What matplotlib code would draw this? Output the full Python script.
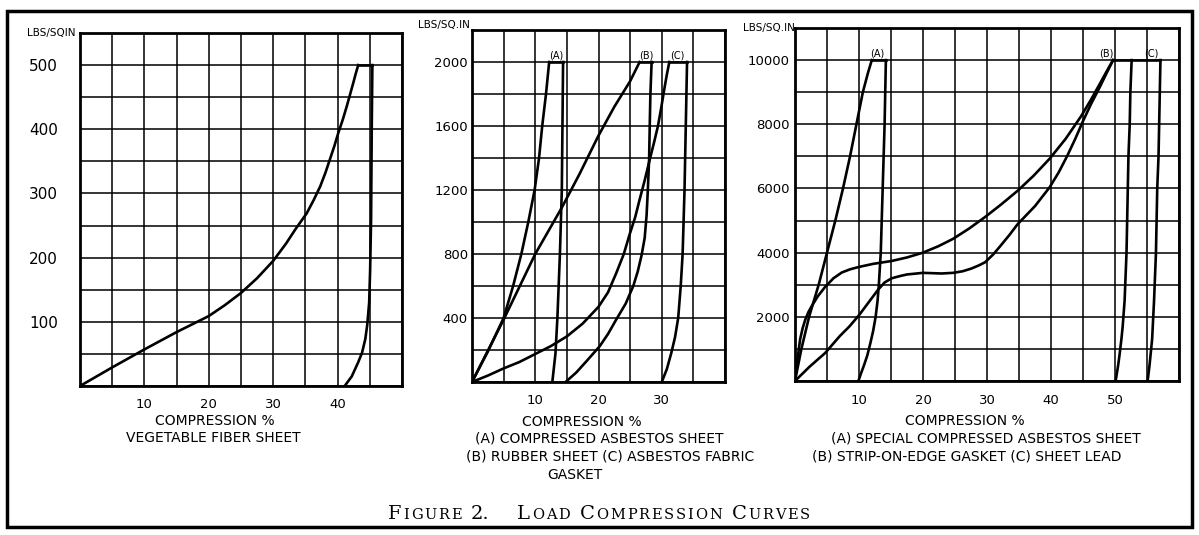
import matplotlib
matplotlib.use('Agg')
import matplotlib.pyplot as plt
from matplotlib.patches import Rectangle
import numpy as np

# ---- datos ----
# panel 1: vegetable fiber sheet
fibra_carga_x = [0, 5, 10, 15, 20, 22.5, 25, 27.5, 30, 32, 33.5, 35.2, 36.3, 37.3, 38.1, 38.8,
                 39.5, 40.1, 40.8, 41.4, 41.9, 42.4, 42.8, 43.2]
fibra_carga_y = [0, 29, 57, 84, 109, 126, 145, 168, 195, 222, 245, 269, 290, 311, 332, 353,
                 374, 394, 415, 435, 453, 471, 486, 500]
fibra_tope_x = [43.2, 45.4]
fibra_descarga_x = [45.4, 45.3, 45.2, 45.05, 44.9, 44.6, 44.3, 43.8, 43.2, 42.2, 41.1]
fibra_descarga_y = [500, 400, 260, 180, 130, 95, 73, 52, 37, 15, 0]

# panel 2: (A) compressed asbestos, (B) rubber sheet, (C) asbestos fabric gasket
a2_carga_x = [0, 2.5, 5, 6.5, 7.8, 8.9, 9.9, 10.6, 11.1, 11.7, 12.2]
a2_carga_y = [0, 190, 400, 600, 800, 1000, 1200, 1400, 1600, 1800, 2000]
a2_descarga_x = [14.4, 14.35, 14.3, 14.2, 14.05, 13.9, 13.7, 13.5, 13.2, 12.7]
a2_descarga_y = [2000, 1800, 1600, 1200, 1000, 800, 600, 400, 180, 0]

b2_carga_x = [0, 5, 10, 14.2, 17, 20, 22.5, 25, 26.5]
b2_carga_y = [0, 390, 800, 1090, 1300, 1540, 1720, 1880, 2000]
b2_descarga_x = [28.4, 28.3, 28.2, 28.1, 28.0, 27.8, 27.6, 27.3, 26.8, 26.2, 25.5, 24.3, 22.8,
                 21.5, 20.2, 18.1, 16.5, 14.8]
b2_descarga_y = [2000, 1900, 1790, 1600, 1390, 1200, 1040, 900, 790, 690, 600, 490, 390,
                 300, 224, 130, 60, 0]

c2_carga_x = [0, 2.5, 5, 7.5, 10, 12.5, 15, 17.5, 20, 21.5, 22.8, 24, 24.9, 25.8, 26.5, 27.3,
              28.1, 28.8, 29.4, 29.9, 30.4, 30.8, 31.2]
c2_carga_y = [0, 40, 85, 125, 175, 225, 285, 365, 470, 560, 680, 800, 920, 1030, 1140, 1260,
              1390, 1500, 1600, 1710, 1830, 1920, 2000]
c2_descarga_x = [34.0, 33.9, 33.8, 33.6, 33.3, 33.0, 32.6, 32.1, 31.5, 30.8, 30.0]
c2_descarga_y = [2000, 1800, 1600, 1200, 800, 600, 400, 280, 180, 80, 0]

# panel 3: (A) special compressed asbestos, (B) strip-on-edge gasket, (C) sheet lead
a3_carga_x = [0, 1, 2.2, 3.7, 5, 6.3, 7.5, 8.6, 9.6, 10.6, 11.4, 12.0]
a3_carga_y = [0, 1000, 2000, 3000, 4000, 5000, 6000, 7000, 8000, 9000, 9600, 10000]
a3_descarga_x = [14.2, 14.0, 13.7, 13.4, 13.1, 12.9, 12.6, 12.2, 11.8, 11.3, 10.8, 10.3, 9.9]
a3_descarga_y = [10000, 8000, 6000, 4000, 3000, 2500, 2000, 1550, 1200, 800, 500, 230, 0]

b3_carga_x = [0, 0.4, 0.8, 1.2, 1.6, 2.1, 2.6, 3.6, 4.7, 6, 7.3, 8.6, 9.9, 12.2, 15.1, 17.5,
              20, 22.4, 24.7, 27.2, 29.7, 32.2, 34.8, 37.3, 39.8, 42.3, 44.7, 46.2, 47.6, 48.7, 49.7]
b3_carga_y = [0, 700, 1300, 1650, 1910, 2150, 2330, 2650, 2930, 3200, 3380, 3480, 3550, 3650,
              3740, 3850, 4000, 4200, 4430, 4750, 5110, 5500, 5930, 6400, 6930, 7550, 8250,
              8750, 9250, 9650, 10000]
b3_descarga_x = [52.6, 52.4, 52.3, 52.1, 52.0, 51.8, 51.5, 51.2, 51.0, 50.7, 50.5, 50.1]
b3_descarga_y = [10000, 9000, 8000, 7000, 6000, 4000, 2500, 1700, 1300, 800, 500, 0]

c3_carga_x = [0, 2.3, 4.7, 7, 8.5, 10, 11.5, 13, 14, 15.1, 16.4, 17.5, 20, 22.9, 24.7, 26.2,
              27.5, 28.7, 29.7, 31, 32.1, 33.5, 34.8, 37.5, 39.8, 41.2, 42.5, 43.8, 45, 46.3,
              47.6, 48.7, 49.7]
c3_carga_y = [0, 450, 870, 1400, 1700, 2050, 2450, 2850, 3070, 3200, 3270, 3320, 3370, 3350,
              3370, 3420, 3500, 3600, 3700, 3950, 4210, 4550, 4890, 5450, 6040, 6500, 7000,
              7550, 8100, 8650, 9150, 9600, 10000]
c3_descarga_x = [57.1, 57.0, 56.9, 56.8, 56.6, 56.4, 56.1, 55.8, 55.6, 55.4, 55.1]
c3_descarga_y = [10000, 9000, 8000, 7000, 6000, 4000, 2500, 1300, 900, 500, 0]

tope = [500, 2000, 10000]

x_ticks1 = ['', '', '10', '', '20', '', '30', '', '40', '', '']
y_ticks1 = ['', '', '100', '', '200', '', '300', '', '400', '', '500', '']
x_ticks2 = ['', '', '10', '', '20', '', '30', '', '']
y_ticks2 = ['', '', '400', '', '800', '', '1200', '', '1600', '', '2000', '']
x_ticks3 = ['', '', '10', '', '20', '', '30', '', '40', '', '50', '', '']
y_ticks3 = ['', '', '2000', '', '4000', '', '6000', '', '8000', '', '10000', '']

plt.rcParams['font.family'] = ['DejaVu Sans']

W, H = 1199, 535
fig = plt.figure(figsize=(W / 100, H / 100), dpi=100)
fig.patch.set_facecolor('white')


def caja(izq, sup, der, inf):
    return [izq / W, 1 - inf / H, (der - izq) / W, (inf - sup) / H]


def prepara(ax, xmax, ymax, paso_y, xt, yt, pad_y, tam_y):
    ax.set_xlim(0, xmax)
    ax.set_ylim(0, ymax)
    ax.set_xticks(np.arange(0, xmax + 0.1, 5))
    ax.set_xticklabels(xt)
    ax.set_yticks(np.arange(0, ymax + 0.1, paso_y))
    ax.set_yticklabels(yt)
    ax.tick_params(axis='y', length=0, labelsize=tam_y, pad=pad_y)
    ax.tick_params(axis='x', length=0, labelsize=9.5, pad=9)
    ax.grid(True, color='black', linewidth=1.3, alpha=0.85)
    ax.set_axisbelow(True)
    for s in ax.spines.values():
        s.set_linewidth(2)


lw = 1.9

# panel 1
ax1 = fig.add_axes(caja(80, 33, 402, 386))
prepara(ax1, 50, 550, 50, x_ticks1, y_ticks1, 16, 11)
ax1.plot(fibra_carga_x, fibra_carga_y, color='black', lw=lw)
ax1.plot(fibra_tope_x, [tope[0], tope[0]], color='black', lw=lw)
ax1.plot(fibra_descarga_x, fibra_descarga_y, color='black', lw=lw)
ax1.text(-0.015, 1.0, 'LBS/SQIN', transform=ax1.transAxes, ha='right', va='center', fontsize=7.5)

# panel 2
ax2 = fig.add_axes(caja(472, 30, 725, 382))
prepara(ax2, 40, 2200, 200, x_ticks2, y_ticks2, 3, 9.5)
ax2.plot(a2_carga_x, a2_carga_y, color='black', lw=lw)
ax2.plot([a2_carga_x[-1], a2_descarga_x[0]], [tope[1], tope[1]], color='black', lw=lw)
ax2.plot(a2_descarga_x, a2_descarga_y, color='black', lw=lw)
ax2.plot(b2_carga_x, b2_carga_y, color='black', lw=lw)
ax2.plot([b2_carga_x[-1], b2_descarga_x[0]], [tope[1], tope[1]], color='black', lw=lw)
ax2.plot(b2_descarga_x, b2_descarga_y, color='black', lw=lw)
ax2.plot(c2_carga_x, c2_carga_y, color='black', lw=lw)
ax2.plot([c2_carga_x[-1], c2_descarga_x[0]], [tope[1], tope[1]], color='black', lw=lw)
ax2.plot(c2_descarga_x, c2_descarga_y, color='black', lw=lw)
for etiqueta, xe in [('(A)', 13.3), ('(B)', 27.5), ('(C)', 32.5)]:
    ax2.text(xe, 2010, etiqueta, ha='center', va='bottom', fontsize=7)
ax2.text(-0.01, 1.015, 'LBS/SQ.IN', transform=ax2.transAxes, ha='right', va='center', fontsize=7.5)

# panel 3
ax3 = fig.add_axes(caja(795, 28, 1179, 381))
prepara(ax3, 60, 11000, 1000, x_ticks3, y_ticks3, 4, 9.5)
ax3.plot(a3_carga_x, a3_carga_y, color='black', lw=lw)
ax3.plot([a3_carga_x[-1], a3_descarga_x[0]], [tope[2], tope[2]], color='black', lw=lw)
ax3.plot(a3_descarga_x, a3_descarga_y, color='black', lw=lw)
ax3.plot(b3_carga_x, b3_carga_y, color='black', lw=lw)
ax3.plot(b3_descarga_x, b3_descarga_y, color='black', lw=lw)
ax3.plot(c3_carga_x, c3_carga_y, color='black', lw=lw)
ax3.plot([c3_carga_x[-1], c3_descarga_x[0]], [tope[2], tope[2]], color='black', lw=lw)
ax3.plot(c3_descarga_x, c3_descarga_y, color='black', lw=lw)
for etiqueta, xe in [('(A)', 12.8), ('(B)', 48.6), ('(C)', 55.6)]:
    ax3.text(xe, 10050, etiqueta, ha='center', va='bottom', fontsize=7)
ax3.text(0.0, 1.0, 'LBS/SQ.IN', transform=ax3.transAxes, ha='right', va='center', fontsize=7.5)


# textos de pie
def texto(x, y, s, ha='center', size=10):
    fig.text(x / W, 1 - y / H, s, ha=ha, va='center', fontsize=size)


texto(215, 421, 'COMPRESSION %')
texto(213, 438, 'VEGETABLE FIBER SHEET')
texto(582, 422, 'COMPRESSION %')
texto(599, 438, '(A) COMPRESSED ASBESTOS SHEET')
texto(610, 457, '(B) RUBBER SHEET (C) ASBESTOS FABRIC')
texto(575, 475, 'GASKET')
texto(965, 421, 'COMPRESSION %')
texto(986, 438, '(A) SPECIAL COMPRESSED ASBESTOS SHEET')
texto(812, 457, '(B) STRIP-ON-EDGE GASKET (C) SHEET LEAD', ha='left')

# titulo en versalitas: inicial grande + resto pequeño, letra a letra
palabras = [('F', 'IGURE'), ('2.', ''), ('L', 'OAD'), ('C', 'OMPRESSION'), ('C', 'URVES')]
huecos = [7, 26, 8, 8, 0]
renderer = fig.canvas.get_renderer()
serif = ['DejaVu Serif']
piezas = []
x = 0.0
for (ini, resto), hueco in zip(palabras, huecos):
    letras = [(ini, 14)] + [(c, 10.5) for c in resto]
    for s, tam in letras:
        t = fig.text(0, 0, s, fontsize=tam, family=serif, va='baseline')
        ancho = t.get_window_extent(renderer).width
        piezas.append((t, x))
        x += ancho + 1.8
    x += hueco
x0 = 600 - x / 2
for t, dx in piezas:
    t.set_position(((x0 + dx) / W, 1 - 519 / H))

# marco exterior
fig.patches.append(Rectangle((7 / W, 1 - 527 / H), (1192 - 7) / W, (527 - 11) / H,
                             transform=fig.transFigure, fill=False, edgecolor='black', linewidth=2.5))

fig.savefig('out.png', dpi=100)
